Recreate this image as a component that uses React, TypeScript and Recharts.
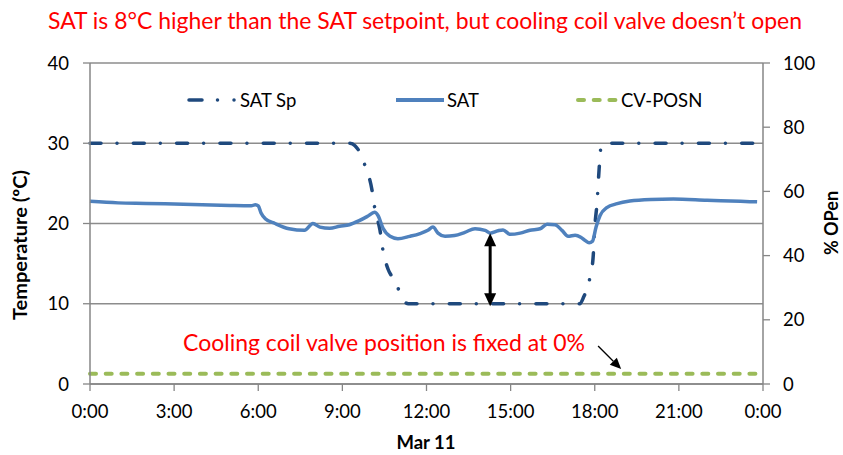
import React from "react";
import { CartesianGrid, Line, LineChart, ReferenceLine, XAxis, YAxis } from "recharts";

// hours of the day (Mar 11) and readings
const satSpHours = [0, 9.27, 9.45, 9.63, 9.8, 10.06, 10.16, 10.34, 10.45, 10.63, 10.8, 11.06, 11.23, 11.35, 17.47, 17.6, 17.83, 17.94, 18.0, 18.08, 18.16, 18.22, 18.3, 23.79];
const satSpValues = [30, 30, 29.7, 28.8, 27.3, 24.1, 21.8, 19.2, 16.6, 14.3, 13.2, 11.4, 10.2, 10, 10, 10.8, 13.3, 15.7, 19.5, 22.5, 27.0, 29.5, 30, 30];

const satHours = [
  0, 1, 2, 3, 4, 5, 5.75, 5.9, 6.0, 6.1, 6.25, 6.6, 7.1, 7.65, 7.95, 8.2, 8.55, 8.9, 9.25, 9.6, 9.9, 10.15,
  10.27, 10.45, 10.7, 10.98, 11.4, 11.77, 12.05, 12.23, 12.41, 12.66, 13.0, 13.37, 13.73, 14.09, 14.27, 14.55,
  14.73, 14.98, 15.34, 15.69, 16.05, 16.3, 16.58, 16.83, 17.05, 17.3, 17.5, 17.65, 17.8, 17.92, 18.05, 18.19,
  18.43, 18.8, 19.25, 20, 20.8, 22, 23.2, 23.79
];
const satValues = [
  22.76, 22.57, 22.5, 22.42, 22.33, 22.24, 22.2, 22.35, 22.2, 21.3, 20.6, 20.0, 19.35, 19.15, 20.0, 19.55, 19.4,
  19.65, 19.85, 20.35, 20.9, 21.4, 21.0, 19.4, 18.4, 18.1, 18.4, 18.75, 19.15, 19.55, 18.8, 18.4, 18.5, 18.9,
  19.35, 19.15, 18.8, 19.1, 19.2, 18.65, 18.8, 19.15, 19.35, 19.9, 19.85, 19.15, 18.4, 18.55, 18.3, 17.9, 17.6,
  17.8, 19.6, 21.0, 21.97, 22.47, 22.8, 23.0, 23.05, 22.9, 22.76, 22.7
];

const cvHours = [0, 23.79];
const cvValues = [3.2, 3.2];

const hourTicks = [0, 3, 6, 9, 12, 15, 18, 21, 24];
const tempTicks = [0, 10, 20, 30, 40];
const openTicks = [0, 20, 40, 60, 80, 100];

const satSpData = satSpHours.map((h, i) => ({ h, v: satSpValues[i] }));
const satData = satHours.map((h, i) => ({ h, v: satValues[i] }));
const cvData = cvHours.map((h, i) => ({ h, v: cvValues[i] }));

const FONT = "Lato, 'Open Sans', sans-serif";
const AXIS = "#868686";
const SP_COLOR = "#1F497D";
const SAT_COLOR = "#4F81BD";
const CV_COLOR = "#9BBB59";
const SP_DASH = "11 16 0.01 16.3";
const CV_DASH = "6 9.7";

const tickStyle = { fontSize: 18.5, fill: "#000", fontFamily: FONT };

// double headed arrow between SAT and SAT setpoint
const GapArrow = (props: any) => {
  const { x1, y1, y2 } = props;
  return (
    <g>
      <line x1={x1} y1={y1 + 10} x2={x1} y2={y2 - 10} stroke="#000" strokeWidth={3} />
      <polygon points={`${x1},${y1} ${x1 - 6},${y1 + 13} ${x1 + 6},${y1 + 13}`} fill="#000" />
      <polygon points={`${x1},${y2} ${x1 - 6},${y2 - 13} ${x1 + 6},${y2 - 13}`} fill="#000" />
    </g>
  );
};

const PointerArrow = (props: any) => {
  const { x1, y1, x2, y2 } = props;
  const a = Math.atan2(y2 - y1, x2 - x1);
  const len = 11;
  const w = 5;
  const bx = x2 - len * Math.cos(a);
  const by = y2 - len * Math.sin(a);
  const px = -Math.sin(a) * w;
  const py = Math.cos(a) * w;
  return (
    <g>
      <line x1={x1} y1={y1} x2={bx} y2={by} stroke="#000" strokeWidth={1.3} />
      <polygon points={`${x2},${y2} ${bx + px},${by + py} ${bx - px},${by - py}`} fill="#000" />
    </g>
  );
};

export default function App() {
  return (
    <div style={{ position: "absolute", left: 0, top: 0, width: 843, height: 455, background: "#fff" }}>
      <LineChart width={843} height={455} margin={{ top: 63, right: 0, bottom: 0, left: 0 }}>
        <CartesianGrid yAxisId="left" horizontal vertical={false} stroke="#8c8c8c" strokeWidth={1.3} />
        <XAxis
          dataKey="h"
          type="number"
          domain={[0, 24]}
          ticks={hourTicks}
          tickFormatter={(h: number) => `${h % 24}:00`}
          height={71}
          allowDuplicatedCategory={false}
          axisLine={{ stroke: AXIS, strokeWidth: 1.5 }}
          tickLine={{ stroke: AXIS, strokeWidth: 1.3 }}
          tickSize={7}
          tickMargin={14}
          tick={tickStyle}
          interval={0}
        />
        <YAxis
          yAxisId="left"
          domain={[0, 40]}
          ticks={tempTicks}
          width={90}
          axisLine={{ stroke: AXIS, strokeWidth: 1.5 }}
          tickLine={{ stroke: AXIS, strokeWidth: 1.3 }}
          tickSize={7}
          tickMargin={14}
          tick={tickStyle}
          interval={0}
        />
        <YAxis
          yAxisId="right"
          orientation="right"
          domain={[0, 100]}
          ticks={openTicks}
          width={80}
          axisLine={{ stroke: AXIS, strokeWidth: 1.5 }}
          tickLine={{ stroke: AXIS, strokeWidth: 1.3 }}
          tickSize={7}
          tickMargin={13}
          tick={tickStyle}
          interval={0}
        />
        <Line
          yAxisId="right"
          data={cvData}
          dataKey="v"
          type="linear"
          stroke={CV_COLOR}
          strokeWidth={4}
          strokeDasharray={CV_DASH}
          strokeLinecap="round"
          dot={false}
          activeDot={false}
          isAnimationActive={false}
        />
        <Line
          yAxisId="left"
          data={satSpData}
          dataKey="v"
          type="monotone"
          stroke={SP_COLOR}
          strokeWidth={3.5}
          strokeDasharray={SP_DASH}
          strokeLinecap="round"
          dot={false}
          activeDot={false}
          isAnimationActive={false}
        />
        <Line
          yAxisId="left"
          data={satData}
          dataKey="v"
          type="monotone"
          stroke={SAT_COLOR}
          strokeWidth={3.5}
          dot={false}
          activeDot={false}
          isAnimationActive={false}
        />
        <ReferenceLine
          yAxisId="left"
          segment={[{ x: 14.27, y: 18.8 }, { x: 14.27, y: 9.7 }]}
          shape={GapArrow}
          ifOverflow="visible"
        />
        <ReferenceLine
          yAxisId="left"
          segment={[{ x: 18.12, y: 4.73 }, { x: 18.94, y: 1.87 }]}
          shape={PointerArrow}
          ifOverflow="visible"
        />
      </LineChart>

      <svg
        width={843}
        height={455}
        style={{ position: "absolute", left: 0, top: 0, pointerEvents: "none" }}
        fontFamily={FONT}
      >
        <text x={425} y={29.3} textAnchor="middle" fontSize={23} fill="#FF0000" textLength={754} lengthAdjust="spacingAndGlyphs">
          SAT is 8°C higher than the SAT setpoint, but cooling coil valve doesn’t open
        </text>
        <text x={183} y={350.7} fontSize={23} fill="#FF0000" textLength={402} lengthAdjust="spacingAndGlyphs">
          Cooling coil valve position is fixed at 0%
        </text>

        {/* legend */}
        <line x1={189} y1={100} x2={236} y2={100} stroke={SP_COLOR} strokeWidth={3.5} strokeLinecap="round" strokeDasharray="13 15.5 0.01 16.5 0.01 100" />
        <text x={240} y={106.7} fontSize={18.5} fill="#000">SAT Sp</text>
        <line x1={396} y1={100} x2={444} y2={100} stroke={SAT_COLOR} strokeWidth={4} />
        <text x={447} y={106.7} fontSize={18.5} fill="#000">SAT</text>
        <line x1={578} y1={100} x2={618} y2={100} stroke={CV_COLOR} strokeWidth={4} strokeLinecap="round" strokeDasharray={CV_DASH} />
        <text x={621} y={106.7} fontSize={18.5} fill="#000">CV-POSN</text>

        {/* axis titles */}
        <text x={426} y={449.3} textAnchor="middle" fontSize={18.5} fontWeight="bold" fill="#000">Mar 11</text>
        <text
          transform="translate(26.5,245) rotate(-90)"
          textAnchor="middle"
          fontSize={18.5}
          fontWeight="bold"
          fill="#000"
          textLength={150}
          lengthAdjust="spacingAndGlyphs"
        >
          Temperature (ºC)
        </text>
        <text transform="translate(838,223) rotate(-90)" textAnchor="middle" fontSize={18} fontWeight="bold" fill="#000">
          % OPen
        </text>
      </svg>
    </div>
  );
}
